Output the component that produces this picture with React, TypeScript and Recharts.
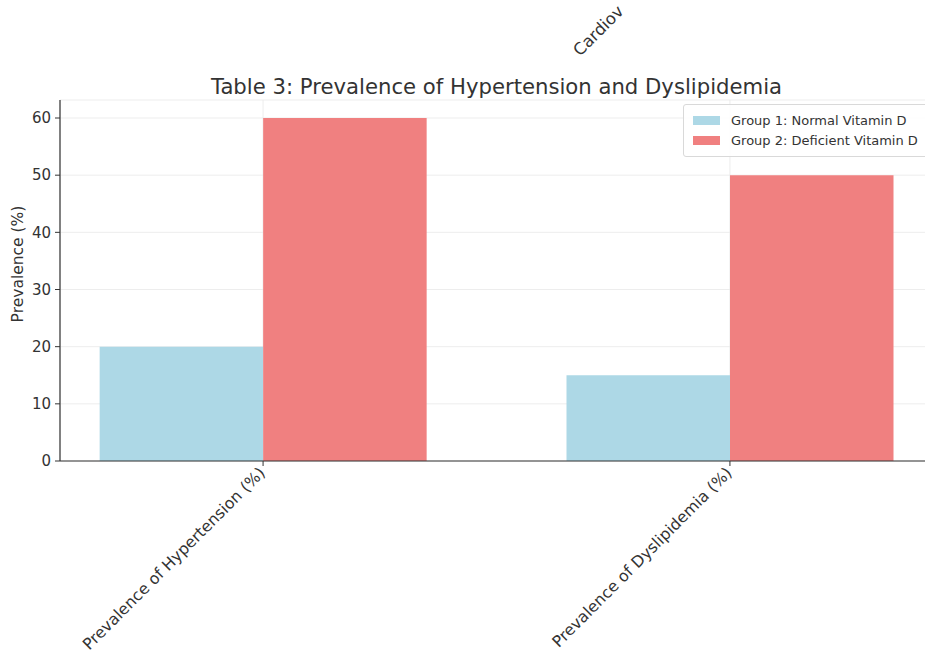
import React from 'react';
import { BarChart, Bar, XAxis, YAxis, CartesianGrid, Legend } from 'recharts';

const categories = ['Prevalence of Hypertension (%)', 'Prevalence of Dyslipidemia (%)'];
const group1Values = [20, 15];
const group2Values = [60, 50];
const seriesNames = ['Group 1: Normal Vitamin D', 'Group 2: Deficient Vitamin D'];
const yTicks = [0, 10, 20, 30, 40, 50, 60];

const data = categories.map((name, i) => ({
  pos: i,
  name,
  g1: group1Values[i],
  g2: group2Values[i],
}));

const FONT = '"DejaVu Sans", sans-serif';
const TEXT = '#333';

const XTick: React.FC<any> = ({ x, y, payload }) => {
  const tx = x + 3;
  const ty = y + 6;
  return (
    <text
      x={tx}
      y={ty}
      transform={`rotate(-45 ${tx} ${ty})`}
      textAnchor="end"
      fontSize={15.8}
      fontFamily={FONT}
      fill={TEXT}
    >
      {categories[payload.value]}
    </text>
  );
};

const LegendBox: React.FC<any> = ({ payload }) => {
  return (
    <div
      style={{
        border: '1px solid #d9d9d9',
        borderRadius: 3,
        background: 'rgba(255,255,255,0.85)',
        padding: '5px 20px 6px 9px',
        fontFamily: FONT,
        fontSize: 13,
        color: TEXT,
        whiteSpace: 'nowrap',
      }}
    >
      {(payload || []).map((p: any) => (
        <div key={p.value} style={{ display: 'flex', alignItems: 'center', height: 20 }}>
          <span style={{ display: 'inline-block', width: 27, height: 9, background: p.color, marginRight: 11 }} />
          <span>{p.value}</span>
        </div>
      ))}
    </div>
  );
};

const App: React.FC = () => {
  return (
    <div style={{ position: 'absolute', left: 0, top: 0, width: 925, height: 654, overflow: 'hidden', background: '#fff' }}>
      <BarChart
        width={945}
        height={654}
        data={data}
        margin={{ top: 100, right: 12, left: 0, bottom: 0 }}
        barSize={163.5}
        barGap={0}
      >
        <CartesianGrid stroke="#e8e8e8" strokeWidth={0.8} />
        <XAxis
          dataKey="pos"
          type="number"
          domain={[-0.435, 1.435]}
          ticks={[0, 1]}
          allowDataOverflow
          interval={0}
          height={193}
          tick={<XTick />}
          tickSize={5}
          tickLine={{ stroke: '#333' }}
          axisLine={{ stroke: '#333', strokeWidth: 1.2 }}
        />
        <YAxis
          type="number"
          domain={[0, 63.15]}
          ticks={yTicks}
          allowDataOverflow
          width={60}
          tickSize={5}
          tickMargin={4}
          tick={{ fontSize: 15, fontFamily: FONT, fill: TEXT }}
          tickLine={{ stroke: '#333' }}
          axisLine={{ stroke: '#333', strokeWidth: 1.2 }}
        />
        <Legend
          layout="horizontal"
          verticalAlign="middle"
          align="center"
          wrapperStyle={{ left: 683, top: 104, width: 'auto' }}
          content={<LegendBox />}
        />
        <Bar dataKey="g1" name={seriesNames[0]} fill="#ADD8E6" isAnimationActive={false} />
        <Bar dataKey="g2" name={seriesNames[1]} fill="#F08080" isAnimationActive={false} />
      </BarChart>
      <svg width={925} height={654} style={{ position: 'absolute', left: 0, top: 0, pointerEvents: 'none' }}>
        <text x={580} y={57} transform="rotate(-45 580 57)" fontSize={16.5} fontFamily={FONT} fill={TEXT}>
          Cardiov
        </text>
        <text x={496.5} y={94} textAnchor="middle" fontSize={21.2} fontFamily={FONT} fill={TEXT}>
          Table 3: Prevalence of Hypertension and Dyslipidemia
        </text>
        <text x={23} y={264} transform="rotate(-90 23 264)" textAnchor="middle" fontSize={15.5} fontFamily={FONT} fill={TEXT}>
          Prevalence (%)
        </text>
      </svg>
    </div>
  );
};

export default App;
